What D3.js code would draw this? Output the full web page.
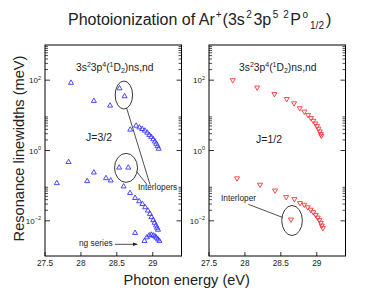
<!DOCTYPE html>
<html>
<head>
<meta charset="utf-8">
<script src="https://cdn.jsdelivr.net/npm/d3@7"></script>
<style>
body { margin: 0; background: #fff; }
text { font-family: "Liberation Sans", Arial, sans-serif; fill: #222; }
</style>
</head>
<body>
<svg id="chart" width="391" height="302"></svg>
<script>
// J=3/2, 3s2 3p4(1D2) ns,nd : upper and lower branches (energy eV, width meV)
var j32UpperE = [27.862, 28.180, 28.406, 28.687, 28.768, 28.814, 28.852, 28.890, 28.923, 28.951, 28.979, 29.007, 29.031, 29.049, 29.068, 29.082];
var j32UpperW = [84, 25.6, 18.9, 3.91, 5.06, 4.53, 4.08, 3.66, 3.21, 2.77, 2.43, 2.08, 1.79, 1.55, 1.32, 1.12];
var j32LowerE = [27.665, 27.828, 28.087, 28.180, 28.349, 28.415, 28.594, 28.683, 28.754, 28.810, 28.856, 28.894, 28.932, 28.961, 28.983, 29.007, 29.025, 29.045, 29.059, 29.073];
var j32LowerW = [0.1175, 0.468, 0.134, 0.236, 0.163, 0.140, 0.0948, 0.0615, 0.0445, 0.0359, 0.0301, 0.0243, 0.0195, 0.0157, 0.0127, 0.0105, 0.00879, 0.00738, 0.00635, 0.00557];
var j32InterE = [28.538, 28.608, 28.532, 28.659];
var j32InterW = [58.4, 34.8, 0.326, 0.326];
var ngE = [28.754, 28.885, 28.918, 28.951, 28.979, 29.007, 29.031, 29.049, 29.073, 29.092];
var ngW = [0.00451, 0.00268, 0.00339, 0.00385, 0.00403, 0.00385, 0.00361, 0.00332, 0.00297, 0.00268];

// J=1/2
var j12UpperE = [27.83, 28.17, 28.41, 28.582, 28.684, 28.763, 28.827, 28.879, 28.921, 28.953, 28.981, 29.004, 29.023, 29.042, 29.056, 29.064];
var j12UpperW = [100, 62, 40.4, 29.2, 22.1, 15.96, 12.8, 10.3, 8.34, 7.0, 5.87, 4.96, 4.17, 3.50, 2.95, 2.63];
var j12LowerE = [27.89, 28.21, 28.42, 28.574, 28.689, 28.768, 28.827, 28.875, 28.916, 28.953, 28.986, 29.014, 29.036, 29.056, 29.070, 29.084];
var j12LowerW = [0.162, 0.107, 0.073, 0.0474, 0.0417, 0.0321, 0.0288, 0.0243, 0.0208, 0.0176, 0.0148, 0.0124, 0.0105, 0.00879, 0.00738, 0.00622];
var j12InterE = [28.641];
var j12InterW = [0.0109];

var xTicks = [27.5, 28, 28.5, 29];
var yMajor = [1e-2, 1, 1e2];

var W = 136.5, H = 211, plotTop = 45;
var x = d3.scaleLinear().domain([27.5, 29.4]).range([0, W]);
var y = d3.scaleLog().domain([1e-3, 1e3]).range([H, 0]);

var svg = d3.select("#chart");

function zip(e, w) { return e.map(function(v, i) { return [v, w[i]]; }); }

var tri = d3.symbol().type(d3.symbolTriangle).size(11);

function panel(x0, series, color, flip) {
	var g = svg.append("g").attr("transform", "translate(" + x0 + "," + plotTop + ")");

	// y ticks, both sides, inward
	var minors = [];
	[-2, 0, 2].forEach(function(n) {
		for (var k = 2; k <= 9; k++) minors.push(k * Math.pow(10, n));
	});
	[0, W].forEach(function(sx) {
		var dir = sx === 0 ? 1 : -1;
		g.selectAll(null).data(minors).enter().append("line")
			.attr("x1", sx).attr("x2", sx + dir * 3)
			.attr("y1", function(d) { return y(d); }).attr("y2", function(d) { return y(d); })
			.attr("stroke", "#000").attr("stroke-width", 0.7);
		g.selectAll(null).data(yMajor).enter().append("line")
			.attr("x1", sx).attr("x2", sx + dir * 5)
			.attr("y1", function(d) { return y(d); }).attr("y2", function(d) { return y(d); })
			.attr("stroke", "#000").attr("stroke-width", 0.8);
	});
	g.selectAll(null).data(xTicks).enter().append("line")
		.attr("x1", function(d) { return x(d); }).attr("x2", function(d) { return x(d); })
		.attr("y1", H).attr("y2", H - 4)
		.attr("stroke", "#000").attr("stroke-width", 0.8);

	// tick labels
	var yl = g.selectAll(null).data(yMajor).enter().append("text")
		.attr("x", -4).attr("y", function(d) { return y(d) + 3; })
		.attr("text-anchor", "end").attr("font-size", 8);
	yl.append("tspan").text("10");
	yl.append("tspan").attr("dy", -3.5).attr("font-size", 5.5)
		.text(function(d) { return d3.format("d")(Math.round(Math.log10(d))).replace("-", "\u2212"); });

	g.selectAll(null).data(xTicks).enter().append("text")
		.attr("x", function(d) { return x(d); }).attr("y", H + 9.5)
		.attr("text-anchor", "middle").attr("font-size", 8.3)
		.text(function(d) { return d; });

	// frame
	g.append("rect").attr("width", W).attr("height", H)
		.attr("fill", "none").attr("stroke", "#000").attr("stroke-width", 1);

	series.forEach(function(s) {
		g.selectAll(null).data(s).enter().append("path")
			.attr("d", tri)
			.attr("transform", function(d) {
				return "translate(" + x(d[0]) + "," + y(d[1]) + ")" + (flip ? " rotate(180)" : "");
			})
			.attr("fill", "none").attr("stroke", color).attr("stroke-width", 0.9);
	});
	return g;
}

// annotation helper for the configuration label
function configLabel(g, px, py) {
	var t = g.append("text").attr("x", px).attr("y", py).attr("font-size", 10.3);
	t.append("tspan").text("3s");
	t.append("tspan").attr("dy", -4).attr("font-size", 7).text("2");
	t.append("tspan").attr("dy", 4).text("3p");
	t.append("tspan").attr("dy", -4).attr("font-size", 7).text("4");
	t.append("tspan").attr("dy", 4).text("(");
	t.append("tspan").attr("dy", -4).attr("font-size", 7).text("1");
	t.append("tspan").attr("dy", 4).text("D");
	t.append("tspan").attr("dy", 2.5).attr("font-size", 7).text("2");
	t.append("tspan").attr("dy", -2.5).text(")ns,nd");
}

var left = panel(45, [zip(j32UpperE, j32UpperW), zip(j32LowerE, j32LowerW), zip(j32InterE, j32InterW), zip(ngE, ngW)], "#3535ff", false);
var right = panel(209, [zip(j12UpperE, j12UpperW), zip(j12LowerE, j12LowerW), zip(j12InterE, j12InterW)], "#ff3535", true);

configLabel(left, 31, 25.5);
configLabel(right, 30, 25.5);

left.append("text").attr("x", 41).attr("y", 95.5).attr("font-size", 10.5).text("J=3/2");
right.append("text").attr("x", 47).attr("y", 98).attr("font-size", 10.5).text("J=1/2");

// interloper ellipses and pointers, left
var ell = [[28.598, 37.8, 8.7, 14], [28.628, 0.321, 11.5, 14.5]];
left.selectAll(null).data(ell).enter().append("ellipse")
	.attr("cx", function(d) { return x(d[0]); }).attr("cy", function(d) { return y(d[1]); })
	.attr("rx", function(d) { return d[2]; }).attr("ry", function(d) { return d[3]; })
	.attr("fill", "none").attr("stroke", "#222").attr("stroke-width", 0.9);
left.append("line").attr("x1", 81.7).attr("y1", 63.3).attr("x2", 105).attr("y2", 139.5)
	.attr("stroke", "#222").attr("stroke-width", 0.8);
left.append("line").attr("x1", 91.7).attr("y1", 126.7).attr("x2", 102).attr("y2", 139.5)
	.attr("stroke", "#222").attr("stroke-width", 0.8);
left.append("text").attr("x", 93).attr("y", 145).attr("font-size", 8.3).text("Interlopers");

// ng series arrow
left.append("text").attr("x", 34).attr("y", 201).attr("font-size", 8.3).text("ng series");
left.append("line").attr("x1", 70).attr("y1", 199.3).attr("x2", 90).attr("y2", 199.3)
	.attr("stroke", "#222").attr("stroke-width", 0.8);
left.append("path").attr("d", "M93,199.3 L88,197.5 L88,201.1 Z").attr("fill", "#222");

// right interloper
var ellR = [[28.656, 0.0102, 10.3, 15]];
right.selectAll(null).data(ellR).enter().append("ellipse")
	.attr("cx", function(d) { return x(d[0]); }).attr("cy", function(d) { return y(d[1]); })
	.attr("rx", function(d) { return d[2]; }).attr("ry", function(d) { return d[3]; })
	.attr("fill", "none").attr("stroke", "#222").attr("stroke-width", 0.9);
right.append("line").attr("x1", 73.3).attr("y1", 172.3).attr("x2", 39.3).attr("y2", 159.3)
	.attr("stroke", "#222").attr("stroke-width", 0.8);
right.append("text").attr("x", 12).attr("y", 156).attr("font-size", 8.3).text("Interloper");

// title
var title = svg.append("text").attr("x", 68).attr("y", 24.5).attr("font-size", 16);
title.append("tspan").text("Photoionization of Ar");
title.append("tspan").attr("dx", 1).attr("dy", -6.5).attr("font-size", 10).text("+");
title.append("tspan").attr("dx", 1).attr("dy", 6.5).text("(3s");
title.append("tspan").attr("dx", 1.5).attr("dy", -6.5).attr("font-size", 10).text("2");
title.append("tspan").attr("dx", 1.5).attr("dy", 6.5).text("3p");
title.append("tspan").attr("dx", 1.5).attr("dy", -6.5).attr("font-size", 10).text("5");
title.append("tspan").attr("dx", 5).attr("font-size", 10).text("2");
title.append("tspan").attr("dx", 1.5).attr("dy", 6.5).text("P");
title.append("tspan").attr("dx", 1.5).attr("dy", -6.5).attr("font-size", 10).text("o");
title.append("tspan").attr("dx", 2).attr("dy", 11).attr("font-size", 10).text("1/2");
title.append("tspan").attr("dx", 2).attr("dy", -4.5).text(")");

// axis titles
svg.append("text").attr("x", 186.7).attr("y", 285).attr("text-anchor", "middle")
	.attr("font-size", 14.6).text("Photon energy (eV)");
svg.append("text").attr("transform", "translate(24,148.5) rotate(-90)")
	.attr("text-anchor", "middle").attr("font-size", 14.6).text("Resonance linewidths (meV)");
</script>
</body>
</html>
